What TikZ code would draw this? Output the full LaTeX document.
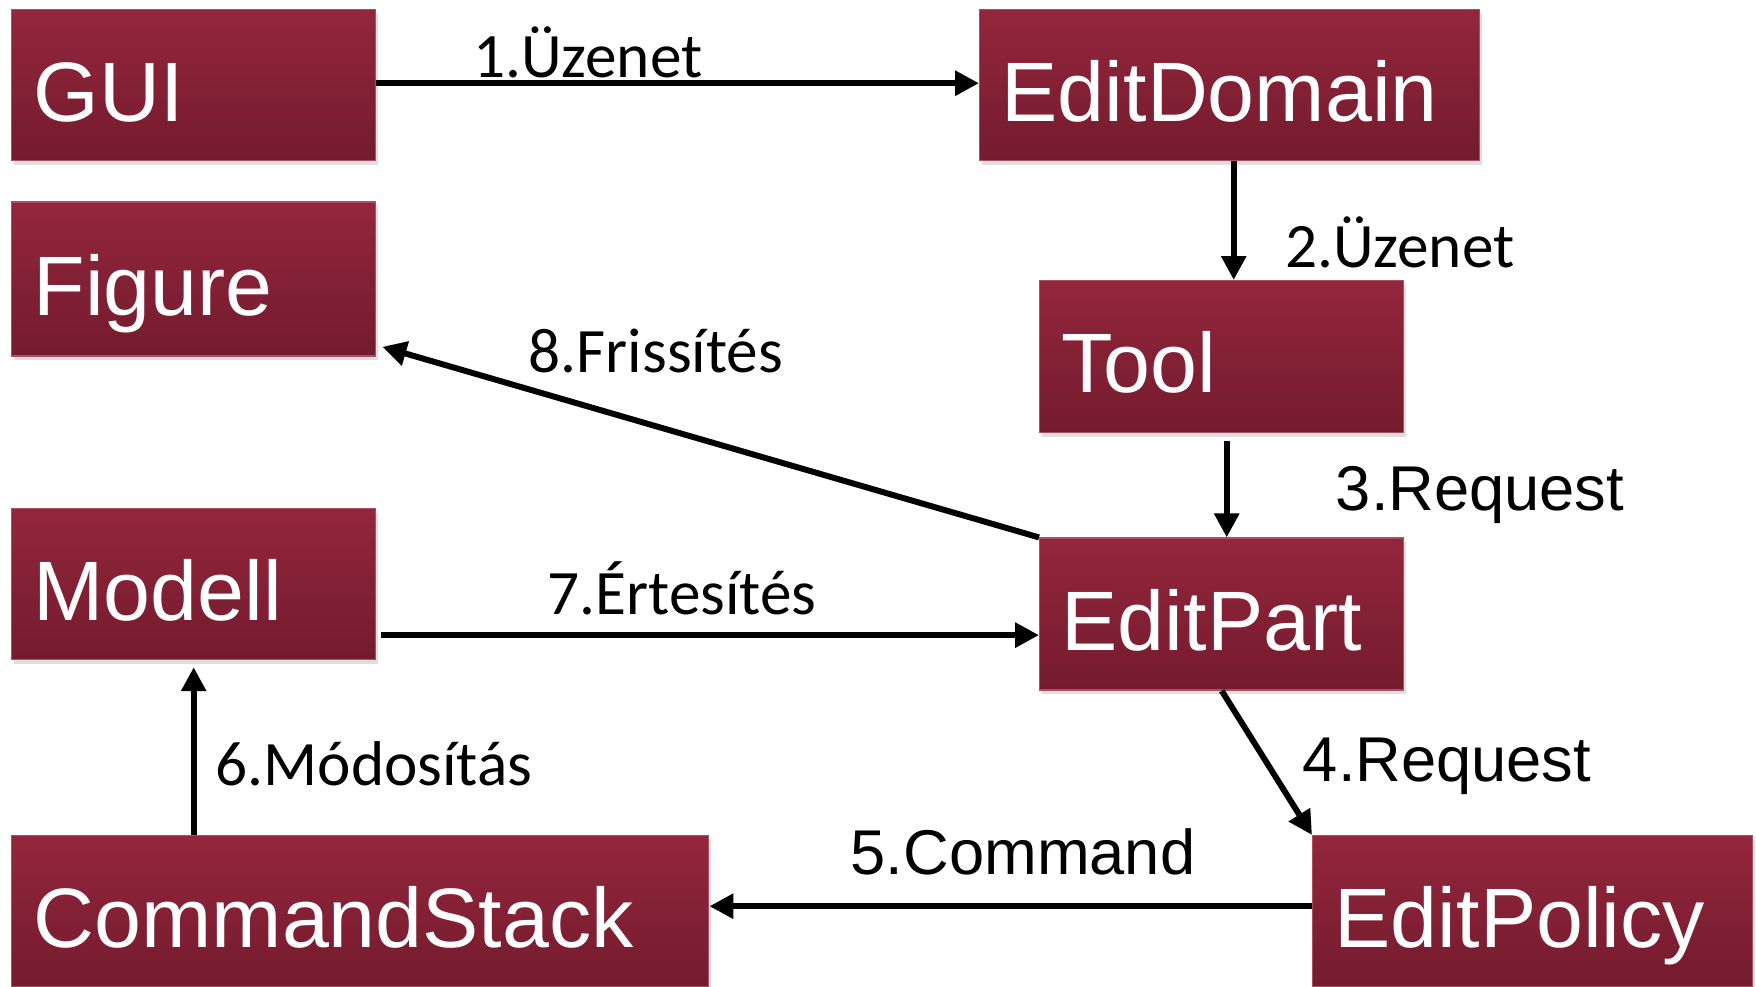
\documentclass[tikz,border=0pt]{standalone}
\usepackage{fontspec}
\setmainfont{Liberation Sans}
\newfontfamily\calib{Carlito}
\usetikzlibrary{positioning,arrows.meta,shadows}

\definecolor{wine}{HTML}{93263C}
\definecolor{winedark}{HTML}{741B2E}

\begin{document}
\begin{tikzpicture}[
    comp/.style={rectangle, anchor=north west, minimum height=1.51cm, inner xsep=0.22cm,
        top color=wine, bottom color=winedark, draw=wine!80!white, line width=0.4pt,
        align=left, text height=0.8cm, text depth=0.08cm, text=white,
        font=\fontsize{24}{28}\selectfont,
        drop shadow={shadow xshift=0.02cm, shadow yshift=-0.04cm, opacity=0.25}},
    arrow/.style={-{Triangle[length=0.24cm, width=0.24cm]}, line width=1.7pt},
    msg/.style={font=\calib\fontsize{18}{22}\selectfont},
    req/.style={font=\fontsize{18}{22}\selectfont}
]
\useasboundingbox (0,0) rectangle (17.56,9.86);

% Left column
\node[comp, text width=3.20cm] (gui) at (0.11,9.77) {GUI};
\node[comp, text width=3.20cm, minimum height=1.54cm, below=0.40cm of gui.south west, anchor=north west] (figure) {Figure};
\node[comp, text width=3.20cm, below=1.51cm of figure.south west, anchor=north west] (modell) {Modell};
\node[comp, text width=6.53cm] (cmdstack) at (0.11,1.51) {CommandStack};

% Right column
\node[comp, text width=4.56cm] (editdomain) at (9.79,9.77) {EditDomain};
\node[comp, text width=3.20cm, minimum height=1.52cm] (tool) at (10.39,7.06) {Tool};
\node[comp, text width=3.20cm, minimum height=1.52cm, below=1.04cm of tool.south west, anchor=north west] (editpart) {EditPart};
\node[comp, text width=3.96cm] (editpolicy) at (13.12,1.51) {EditPolicy};

% Helper points for the off-centre connectors
\coordinate (pe) at ([yshift=-0.21cm]editpart.west);
\coordinate (fe) at ([shift={(0.06cm,0.10cm)}]figure.south east);
\coordinate (ce) at ([yshift=0.05cm]editpolicy.west);

% Messages
\draw[arrow] ([yshift=0.02cm]gui.east) -- ([yshift=0.02cm]editdomain.west);
\draw[arrow] ([xshift=0.04cm]editdomain.south) -- ([xshift=0.04cm]editdomain.south |- tool.north);
\draw[arrow] ([shift={(0.05cm,-0.08cm)}]tool.south) -- ([xshift=0.05cm]editpart.north);
\draw[arrow] (editpart.south) -- (editpolicy.north west);
\draw[arrow] (ce) -- (ce -| cmdstack.east);
\draw[arrow] (cmdstack.north -| modell.south) -- ([yshift=-0.07cm]modell.south);
\draw[arrow] ([xshift=0.05cm]modell.east |- pe) -- (pe);
\draw[arrow] (editpart.north west) -- (fe);

% Labels
\node[msg] (l1) at (5.88,9.34) {1.Üzenet};
\node[msg] (l2) at (14.00,7.44) {2.Üzenet};
\node[req] (l3) at (14.80,4.91) {3.Request};
\node[req] (l4) at (14.47,2.20) {4.Request};
\node[req] (l5) at (10.23,1.34) {5.Command};
\node[msg] (l6) at (3.74,2.22) {6.Módosítás};
\node[msg] (l7) at (6.82,3.98) {7.Értesítés};
\node[msg] (l8) at (6.56,6.35) {8.Frissítés};

\end{tikzpicture}
\end{document}
